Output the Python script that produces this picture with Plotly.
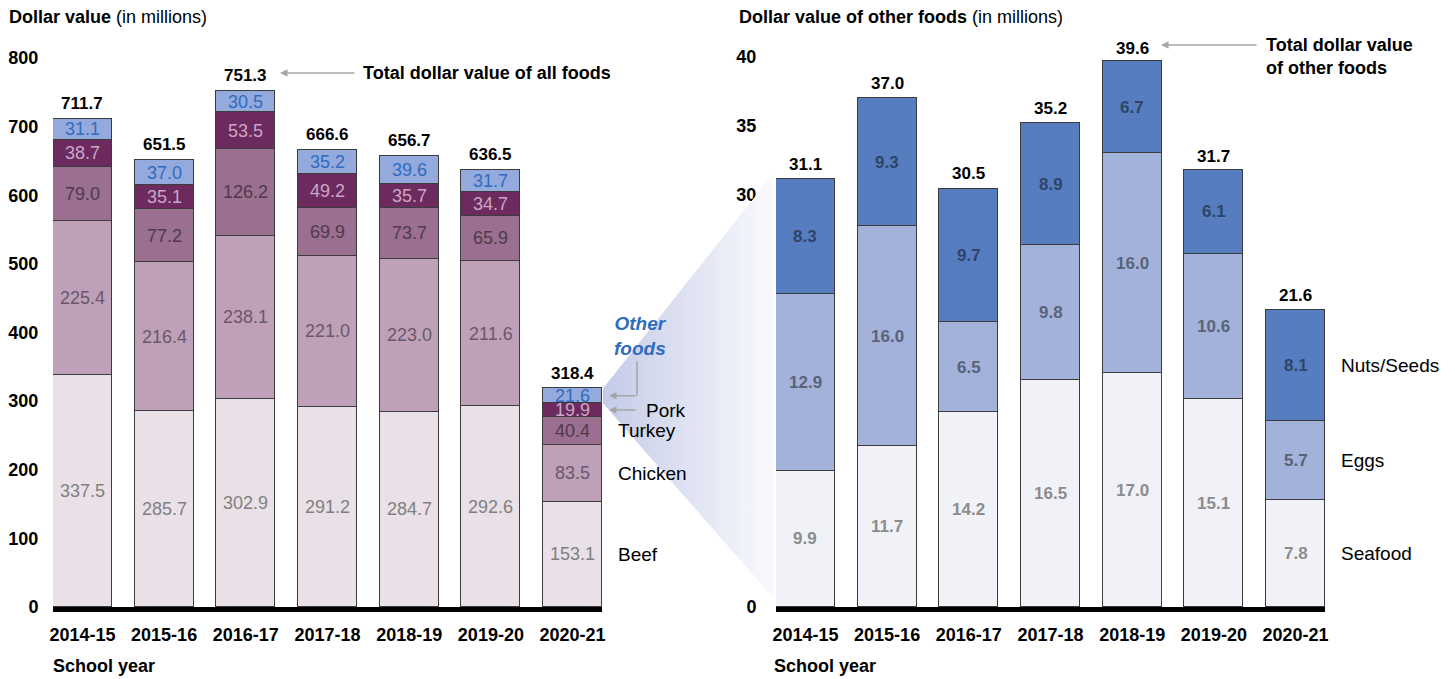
import plotly.graph_objects as go

# ---------------- data ----------------
years = ["2014-15", "2015-16", "2016-17", "2017-18", "2018-19", "2019-20", "2020-21"]

beef = [337.5, 285.7, 302.9, 291.2, 284.7, 292.6, 153.1]
chicken = [225.4, 216.4, 238.1, 221.0, 223.0, 211.6, 83.5]
turkey = [79.0, 77.2, 126.2, 69.9, 73.7, 65.9, 40.4]
pork = [38.7, 35.1, 53.5, 49.2, 35.7, 34.7, 19.9]
other = [31.1, 37.0, 30.5, 35.2, 39.6, 31.7, 21.6]
total_all = [711.7, 651.5, 751.3, 666.6, 656.7, 636.5, 318.4]

seafood = [9.9, 11.7, 14.2, 16.5, 17.0, 15.1, 7.8]
eggs = [12.9, 16.0, 6.5, 9.8, 16.0, 10.6, 5.7]
nuts = [8.3, 9.3, 9.7, 8.9, 6.7, 6.1, 8.1]
total_other = [31.1, 37.0, 30.5, 35.2, 39.6, 31.7, 21.6]

left_ticks = [0, 100, 200, 300, 400, 500, 600, 700, 800]
right_ticks = [0, 5, 10, 15, 20, 25, 30, 35, 40]

# ---------------- styling ----------------
W, H = 1455, 679
FONT = "Liberation Sans, Arial, sans-serif"
EDGE = "#3c3c3c"
BAR_W = 0.72

left_series = [
    ("Beef", beef, "#e9e0e8", "#808080"),
    ("Chicken", chicken, "#bea0b8", "#6b5869"),
    ("Turkey", turkey, "#9a6f90", "#4e3a4b"),
    ("Pork", pork, "#6c2a5e", "#cba6c5"),
    ("Other foods", other, "#94a9dc", "#2f6cc0"),
]
right_series = [
    ("Seafood", seafood, "#f1f2f8", "#8c8c8c"),
    ("Eggs", eggs, "#a3b2db", "#5a6376"),
    ("Nuts/Seeds", nuts, "#557dc0", "#2f4468"),
]

# pixel layout of plot areas
BASE_PY = 607
TOP_PY = 37
L_X0, L_X1 = 53, 602
R_X0, R_X1 = 776, 1325
L_SCALE = 549 / 800   # px per unit
R_SCALE = 550 / 40


def pxx(x):
    return x / W


def pyy(y):
    return 1 - y / H


y_dom = [pyy(BASE_PY), pyy(TOP_PY)]
L_MAX = (BASE_PY - TOP_PY) / L_SCALE
R_MAX = (BASE_PY - TOP_PY) / R_SCALE
X_RANGE = [-BAR_W / 2, len(years) - 1 + BAR_W / 2]

fig = go.Figure()

for name, vals, col, _ in left_series:
    fig.add_trace(go.Bar(x=years, y=vals, name=name, width=BAR_W,
                         marker=dict(color=col, line=dict(color=EDGE, width=1)),
                         xaxis="x", yaxis="y", showlegend=False, hoverinfo="skip"))
for name, vals, col, _ in right_series:
    fig.add_trace(go.Bar(x=years, y=vals, name=name, width=BAR_W,
                         marker=dict(color=col, line=dict(color=EDGE, width=1)),
                         xaxis="x2", yaxis="y2", showlegend=False, hoverinfo="skip"))

annotations = []


def ann(**kw):
    kw.setdefault("xanchor", "center")
    kw.setdefault("yanchor", "middle")
    annotations.append(kw)


# in-bar labels
def add_inside(series, xref, yref, size, weight):
    cum = [0.0] * len(years)
    for name, vals, _, tcol in series:
        for i, v in enumerate(vals):
            ann(x=years[i], y=cum[i] + v / 2, xref=xref, yref=yref,
                text=f"{v:.1f}", showarrow=False,
                font=dict(family=FONT, size=size, color=tcol, weight=weight))
            cum[i] += v


add_inside(left_series, "x", "y", 18, "normal")
add_inside(right_series, "x2", "y2", 17, "bold")

# totals
for i, t in enumerate(total_all):
    ann(x=years[i], y=t, xref="x", yref="y", text=f"{t:.1f}",
        showarrow=False, yanchor="bottom", yshift=4,
        font=dict(family=FONT, size=17, color="black", weight="bold"))
for i, t in enumerate(total_other):
    ann(x=years[i], y=t, xref="x2", yref="y2", text=f"{t:.1f}",
        showarrow=False, yanchor="bottom", yshift=3,
        font=dict(family=FONT, size=17, color="black", weight="bold"))

# side category labels for last bar
last = len(years) - 1
cum = 0.0
centers_left = {}
for name, vals, _, _ in left_series:
    centers_left[name] = cum + vals[last] / 2
    cum += vals[last]
cum = 0.0
centers_right = {}
for name, vals, _, _ in right_series:
    centers_right[name] = cum + vals[last] / 2
    cum += vals[last]

for name in ["Turkey", "Chicken", "Beef"]:
    ann(x=pxx(L_X1 + 14), y=centers_left[name], xref="paper", yref="y",
        text=name, showarrow=False, xanchor="left",
        font=dict(family=FONT, size=19, color="black"))
ann(x=pxx(L_X1 + 42), y=centers_left["Pork"], xref="paper", yref="y",
    text="Pork", showarrow=False, xanchor="left",
    font=dict(family=FONT, size=19, color="black"))
for name in ["Nuts/Seeds", "Eggs", "Seafood"]:
    ann(x=pxx(R_X1 + 14), y=centers_right[name], xref="paper", yref="y2",
        text=name, showarrow=False, xanchor="left",
        font=dict(family=FONT, size=19, color="black"))

ARROW = "#a6a6a6"
# Pork arrow
ann(x=pxx(L_X1 + 7), y=centers_left["Pork"], xref="paper", yref="y",
    ax=28, ay=0, text="", showarrow=True, arrowhead=2, arrowsize=1,
    arrowwidth=1.5, arrowcolor=ARROW)
# Other foods arrow
ann(x=pxx(L_X1 + 7), y=centers_left["Other foods"], xref="paper", yref="y",
    ax=28, ay=0, text="", showarrow=True, arrowhead=2, arrowsize=1,
    arrowwidth=1.5, arrowcolor=ARROW)
ann(x=pxx(640), y=pyy(336), xref="paper", yref="paper",
    text="<i>Other<br>foods</i>", showarrow=False, align="center",
    font=dict(family=FONT, size=19, color="#2f6cc0", weight="bold"))

# total dollar value arrows
ann(x=pxx(280), y=pyy(73), xref="paper", yref="paper",
    ax=76, ay=0, text="", showarrow=True, arrowhead=2, arrowsize=1,
    arrowwidth=1.5, arrowcolor=ARROW)
ann(x=pxx(361), y=pyy(73), xref="paper", yref="paper", xanchor="left",
    text="Total dollar value of all foods", showarrow=False,
    font=dict(family=FONT, size=18, color="black", weight="bold"))
ann(x=pxx(1161), y=pyy(45), xref="paper", yref="paper",
    ax=97, ay=0, text="", showarrow=True, arrowhead=2, arrowsize=1,
    arrowwidth=1.5, arrowcolor=ARROW)
ann(x=pxx(1264), y=pyy(56), xref="paper", yref="paper", xanchor="left",
    text="Total dollar value<br>of other foods", showarrow=False, align="left",
    font=dict(family=FONT, size=18, color="black", weight="bold"))

# titles
ann(x=pxx(7), y=pyy(17), xref="paper", yref="paper", xanchor="left",
    text="<b>Dollar value</b> (in millions)", showarrow=False,
    font=dict(family=FONT, size=18, color="black"))
ann(x=pxx(737), y=pyy(17), xref="paper", yref="paper", xanchor="left",
    text="<b>Dollar value of other foods</b> (in millions)", showarrow=False,
    font=dict(family=FONT, size=18, color="black"))
ann(x=pxx(51), y=pyy(666), xref="paper", yref="paper", xanchor="left",
    text="<b>School year</b>", showarrow=False,
    font=dict(family=FONT, size=18, color="black"))
ann(x=pxx(772), y=pyy(666), xref="paper", yref="paper", xanchor="left",
    text="<b>School year</b>", showarrow=False,
    font=dict(family=FONT, size=18, color="black"))

# funnel connector (pixel overlay axes)
seg_top = total_all[last]
seg_bot = total_all[last] - other[last]
lt = BASE_PY - seg_top * L_SCALE
lb = BASE_PY - seg_bot * L_SCALE
rt = BASE_PY - 31.6 * R_SCALE
rb = BASE_PY - 0.6 * R_SCALE
fig.add_trace(go.Scatter(x=[L_X1 + 1, R_X0 - 2, R_X0 - 2, L_X1 + 1, L_X1 + 1],
                         y=[lt, rt, rb, lb, lt], mode="lines", line=dict(width=0),
                         fill="toself",
                         fillgradient=dict(type="horizontal",
                                           colorscale=[[0, "rgb(196,203,231)"],
                                                       [1, "rgb(250,250,253)"]]),
                         xaxis="x3", yaxis="y3", showlegend=False, hoverinfo="skip"))

shapes = [dict(type="line", xref="paper", yref="paper", x0=pxx(637), x1=pxx(637),
               y0=pyy(361), y1=pyy(BASE_PY - centers_left["Other foods"] * L_SCALE),
               line=dict(color=ARROW, width=1.5))]

tickfont = dict(family=FONT, size=18, color="black", weight="bold")

fig.update_layout(
    width=W, height=H,
    margin=dict(l=0, r=0, t=0, b=0, pad=0, autoexpand=False),
    paper_bgcolor="white", plot_bgcolor="rgba(0,0,0,0)",
    barmode="stack", bargap=0,
    showlegend=False,
    annotations=annotations,
    shapes=shapes,
    xaxis=dict(domain=[pxx(L_X0), pxx(L_X1)], range=X_RANGE, type="category",
               showline=True, linecolor="black", linewidth=5, showgrid=False,
               ticks="outside", ticklen=7, tickcolor="rgba(0,0,0,0)", tickfont=tickfont,
               automargin=False),
    yaxis=dict(domain=y_dom, range=[0, L_MAX], tickvals=left_ticks, showgrid=False,
               zeroline=False, showline=False, ticks="outside", ticklen=10,
               tickcolor="rgba(0,0,0,0)", tickfont=tickfont, automargin=False),
    xaxis2=dict(domain=[pxx(R_X0), pxx(R_X1)], range=X_RANGE, type="category",
                showline=True, linecolor="black", linewidth=5, showgrid=False,
                ticks="outside", ticklen=7, tickcolor="rgba(0,0,0,0)", tickfont=tickfont,
                anchor="y2", automargin=False),
    yaxis2=dict(domain=y_dom, range=[0, R_MAX], tickvals=right_ticks, showgrid=False,
                zeroline=False, showline=False, ticks="outside", ticklen=15,
                tickcolor="rgba(0,0,0,0)", tickfont=tickfont, anchor="x2", automargin=False),
    xaxis3=dict(domain=[0, 1], range=[0, W], visible=False, anchor="y3",
                automargin=False, showticklabels=False),
    yaxis3=dict(domain=[0, 1], range=[H, 0], visible=False, anchor="x3",
                automargin=False, showticklabels=False),
)

fig.write_html("out.html", post_script="document.body.style.margin='0';",
               config={"displayModeBar": False})
